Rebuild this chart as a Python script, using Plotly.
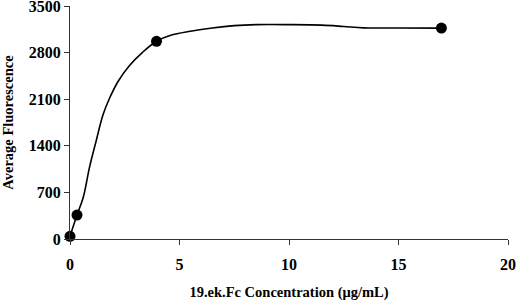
import plotly.graph_objects as go

# measured data points
conc = [0, 0.32, 3.95, 16.96]
fluor = [40, 360, 2970, 3168]

# smoothed curve
curve_x = [0, 0.32, 0.6, 0.9, 1.2, 1.5, 1.8, 2.2, 2.7, 3.3, 3.95, 4.6, 5.5, 6.5, 7.5, 8.5, 10, 11.5, 12.5, 13.4, 15, 16.96]
curve_y = [40, 360, 620, 1090, 1480, 1860, 2110, 2370, 2600, 2800, 2970, 3060, 3120, 3170, 3205, 3220, 3220, 3212, 3192, 3172, 3170, 3168]

x_ticks = [0, 5, 10, 15, 20]
y_ticks = [0, 700, 1400, 2100, 2800, 3500]

font_fam = "Liberation Serif"

fig = go.Figure()
fig.add_trace(go.Scatter(x=curve_x, y=curve_y, mode="lines",
                         line=dict(color="black", width=1.6, shape="spline", smoothing=1.0),
                         hoverinfo="skip", cliponaxis=False))
fig.add_trace(go.Scatter(x=conc, y=fluor, mode="markers",
                         marker=dict(color="black", size=11),
                         cliponaxis=False))

fig.update_layout(
    width=520, height=303,
    margin=dict(l=70, r=12, t=6, b=64),
    paper_bgcolor="white", plot_bgcolor="white",
    showlegend=False,
    font=dict(family=font_fam, color="black"),
    xaxis=dict(range=[0, 20], tickvals=x_ticks, ticktext=[str(v) for v in x_ticks],
               automargin=False, ticklabeloverflow="allow",
               showgrid=False, zeroline=False, showline=True, linecolor="#333", linewidth=1.2,
               ticks="outside", ticklen=5, tickcolor="#333", ticklabelstandoff=6,
               tickfont=dict(family=font_fam, size=16, color="black", weight="bold"),
               title=dict(text="<b>19.ek.Fc Concentration (μg/mL)</b>",
                          font=dict(family=font_fam, size=14.5, color="black"), standoff=14)),
    yaxis=dict(range=[0, 3500], tickvals=y_ticks, ticktext=[str(v) for v in y_ticks],
               automargin=False, ticklabeloverflow="allow",
               showgrid=False, zeroline=False, showline=True, linecolor="#333", linewidth=1.2,
               ticks="outside", ticklen=5, tickcolor="#333",
               tickfont=dict(family=font_fam, size=16, color="black", weight="bold"),
               title=dict(text="<b>Average Fluorescence</b>",
                          font=dict(family=font_fam, size=14.5, color="black"), standoff=12)),
)

fig.write_html("out.html", config={"displayModeBar": False},
               post_script="document.body.style.margin='0';document.body.style.overflow='hidden';")
